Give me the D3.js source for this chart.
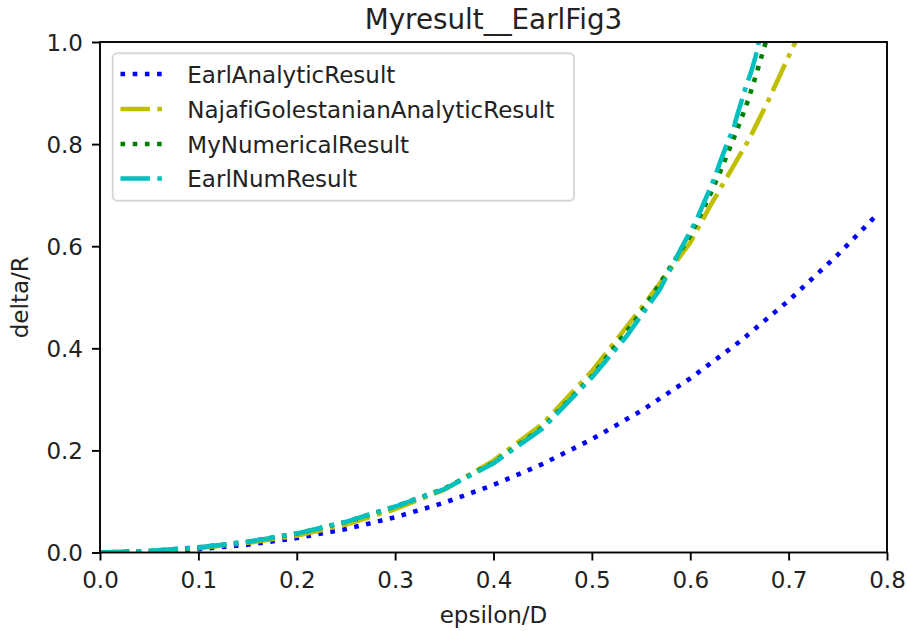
<!DOCTYPE html>
<html>
<head>
<meta charset="utf-8">
<script src="https://cdn.jsdelivr.net/npm/d3@7/dist/d3.min.js"></script>
<style>
  html, body { margin: 0; padding: 0; background: #fff; }
  svg { display: block; }
  text { font-family: "DejaVu Sans", sans-serif; fill: #222; font-variant-ligatures: none; font-feature-settings: "liga" 0, "clig" 0; }
</style>
</head>
<body>
<svg id="chart" width="907" height="631"></svg>
<script>
// ---- data ----
const chartTitle = "Myresult__EarlFig3";
const xLabel = "epsilon/D";
const yLabel = "delta/R";

const xTicks = [0.0, 0.1, 0.2, 0.3, 0.4, 0.5, 0.6, 0.7, 0.8];
const yTicks = [0.0, 0.2, 0.4, 0.6, 0.8, 1.0];

const seriesNames = [
  "EarlAnalyticResult",
  "NajafiGolestanianAnalyticResult",
  "MyNumericalResult",
  "EarlNumResult"
];

const earlAnalyticX = [0, 0.05, 0.1, 0.15, 0.2, 0.25, 0.3, 0.35, 0.4, 0.45, 0.5, 0.55, 0.6, 0.65, 0.7, 0.75, 0.788];
const earlAnalyticY = [0, 0.0015, 0.0065, 0.0152, 0.0283, 0.046, 0.069, 0.0976, 0.1323, 0.1735, 0.2218, 0.2774, 0.3409, 0.4128, 0.4934, 0.5833, 0.658];

const najafiX = [0, 0.05, 0.1, 0.15, 0.2, 0.25, 0.3, 0.35, 0.4, 0.45, 0.5, 0.55, 0.6, 0.62, 0.64, 0.66, 0.68, 0.69, 0.7, 0.71];
const najafiY = [0, 0.0022, 0.0085, 0.019, 0.033, 0.055, 0.085, 0.123, 0.18, 0.252, 0.355, 0.478, 0.607, 0.678, 0.744, 0.81, 0.888, 0.93, 0.972, 1.012];

const myNumX = [0, 0.05, 0.1, 0.15, 0.2, 0.25, 0.3, 0.35, 0.4, 0.45, 0.5, 0.55, 0.6, 0.62, 0.632, 0.641, 0.651, 0.659, 0.667, 0.674, 0.68];
const myNumY = [0, 0.003, 0.01, 0.021, 0.037, 0.06, 0.09, 0.125, 0.176, 0.245, 0.345, 0.47, 0.62, 0.70, 0.753, 0.796, 0.845, 0.887, 0.936, 0.982, 1.02];

const earlNumX = [0, 0.05, 0.1, 0.15, 0.2, 0.25, 0.3, 0.35, 0.4, 0.45, 0.5, 0.535, 0.552, 0.569, 0.59, 0.6065, 0.6217, 0.625, 0.63, 0.639, 0.644, 0.647, 0.654, 0.657, 0.662, 0.6665, 0.672];
const earlNumY = [0, 0.003, 0.01, 0.021, 0.037, 0.06, 0.09, 0.124, 0.175, 0.243, 0.343, 0.423, 0.469, 0.515, 0.593, 0.652, 0.72, 0.736, 0.763, 0.809, 0.83, 0.852, 0.896, 0.915, 0.942, 0.972, 1.02];

// ---- layout ----
const svg = d3.select("#chart");
const plot = { left: 100, right: 887, top: 42, bottom: 552.5 };
const lw = 4.6;

const x = d3.scaleLinear().domain([0, 0.8]).range([plot.left, plot.right]);
const y = d3.scaleLinear().domain([0, 1]).range([plot.bottom, plot.top]);

const styles = [
  { color: "#0000ff", dash: [lw * 1, lw * 1.65] },
  { color: "#bfbf00", dash: [lw * 6.4, lw * 1.6, lw * 1, lw * 1.6] },
  { color: "#008000", dash: [lw * 1, lw * 1.65] },
  { color: "#00bfbf", dash: [lw * 6.4, lw * 1.6, lw * 1, lw * 1.6] }
];

const series = [
  d3.zip(earlAnalyticX, earlAnalyticY),
  d3.zip(najafiX, najafiY),
  d3.zip(myNumX, myNumY),
  d3.zip(earlNumX, earlNumY)
];

svg.append("defs").append("clipPath").attr("id", "plot-clip")
  .append("rect")
  .attr("x", plot.left).attr("y", plot.top)
  .attr("width", plot.right - plot.left).attr("height", plot.bottom - plot.top);

// ---- curves ----
const line = d3.line().x(d => x(d[0])).y(d => y(d[1]));
const curves = svg.append("g").attr("clip-path", "url(#plot-clip)");
series.forEach((pts, i) => {
  curves.append("path")
    .datum(pts)
    .attr("d", line)
    .attr("fill", "none")
    .attr("stroke", styles[i].color)
    .attr("stroke-width", lw)
    .attr("stroke-linecap", "butt")
    .attr("stroke-dasharray", styles[i].dash.join(","));
});

// ---- axes ----
const fontPx = 23;
const xAxis = svg.append("g")
  .attr("transform", `translate(0,${plot.bottom})`)
  .call(d3.axisBottom(x).tickValues(xTicks).tickFormat(d3.format(".1f"))
    .tickSize(8).tickSizeOuter(0).tickPadding(11));
const yAxis = svg.append("g")
  .attr("transform", `translate(${plot.left},0)`)
  .call(d3.axisLeft(y).tickValues(yTicks).tickFormat(d3.format(".1f"))
    .tickSize(8).tickSizeOuter(0).tickPadding(9));

[xAxis, yAxis].forEach(g => {
  g.select(".domain").remove();
  g.selectAll(".tick line").attr("stroke", "#000").attr("stroke-width", 1.9);
  g.selectAll(".tick text")
    .attr("font-family", "DejaVu Sans")
    .attr("font-size", fontPx)
    .attr("fill", "#222");
});
yAxis.selectAll(".tick text").attr("dy", "0.36em");

// frame
svg.append("rect")
  .attr("x", plot.left).attr("y", plot.top)
  .attr("width", plot.right - plot.left).attr("height", plot.bottom - plot.top)
  .attr("fill", "none").attr("stroke", "#000").attr("stroke-width", 1.9);

// ---- labels ----
svg.append("text")
  .attr("x", (plot.left + plot.right) / 2).attr("y", 28.5)
  .attr("text-anchor", "middle").attr("font-size", 27.8)
  .text(chartTitle);

svg.append("text")
  .attr("x", (plot.left + plot.right) / 2).attr("y", 623)
  .attr("text-anchor", "middle").attr("font-size", fontPx)
  .text(xLabel);

svg.append("text")
  .attr("transform", `translate(28,${(plot.top + plot.bottom) / 2}) rotate(-90)`)
  .attr("text-anchor", "middle").attr("font-size", fontPx)
  .text(yLabel);

// ---- legend ----
const legend = svg.append("g");
legend.append("rect")
  .attr("x", 112.7).attr("y", 53.3)
  .attr("width", 461.3).attr("height", 147.4)
  .attr("rx", 4.5).attr("ry", 4.5)
  .attr("fill", "#fff").attr("fill-opacity", 0.8)
  .attr("stroke", "#cccccc").attr("stroke-opacity", 0.8).attr("stroke-width", 1.9);

const rowY = [74, 109, 144, 178.5];
seriesNames.forEach((name, i) => {
  legend.append("line")
    .attr("x1", 120.5).attr("x2", 163)
    .attr("y1", rowY[i]).attr("y2", rowY[i])
    .attr("stroke", styles[i].color)
    .attr("stroke-width", lw)
    .attr("stroke-linecap", "butt")
    .attr("stroke-dasharray", styles[i].dash.join(","));
  legend.append("text")
    .attr("x", 187.3).attr("y", rowY[i] + 8.6)
    .attr("font-size", fontPx)
    .text(name);
});
</script>
</body>
</html>
